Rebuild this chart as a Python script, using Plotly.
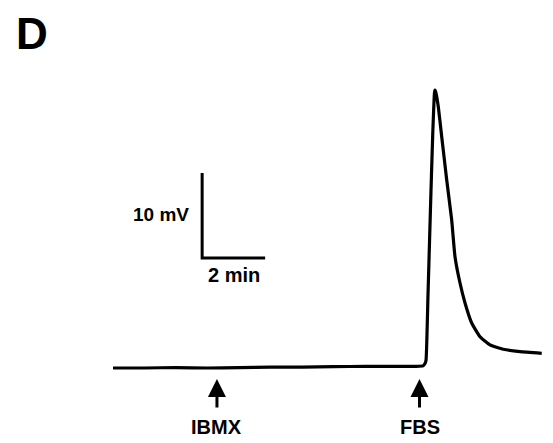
import plotly.graph_objects as go

# Membrane potential trace (relative deflection, mV) vs time (min)
time_min = [0.0, 1.0, 2.0, 3.0, 4.0, 5.0, 6.0, 7.0, 8.0, 9.0, 9.60, 9.84, 9.90, 9.937,
            10.0, 10.095, 10.15, 10.206, 10.222, 10.25, 10.327, 10.435, 10.594, 10.752,
            10.857, 11.016, 11.175, 11.387, 11.651, 11.968, 12.39, 12.92, 13.61]
voltage_mv = [0.0, 0.0, 0.05, 0.0, 0.05, 0.1, 0.1, 0.15, 0.2, 0.2, 0.2, 0.25, 0.5, 0.9,
              8.6, 20.9, 27.5, 32.4, 32.7, 32.4, 30.74, 27.21, 22.12, 17.41,
              13.09, 10.0, 7.65, 5.29, 3.68, 2.71, 2.2, 1.92, 1.73]

# Events
event_labels = ["IBMX", "FBS"]
event_times = [3.3, 9.73]

# Scale bar
bar_t0 = 2.83
bar_v0 = 12.94
bar_time_len = 2.0   # min
bar_volt_len = 10.0  # mV
bar_labels = ["10 mV", "2 min"]
panel_label = "D"

# page body has an 8px margin, so the figure is 545x435 placed at (8, 8)
X_RANGE = [-3.333, 13.968]
Y_RANGE = [-8.824, 42.353]

fig = go.Figure()
fig.add_trace(go.Scatter(x=time_min, y=voltage_mv, mode="lines",
                         line=dict(color="black", width=3.2, shape="spline", smoothing=0.4),
                         hoverinfo="skip"))
fig.add_trace(go.Scatter(x=[bar_t0, bar_t0, bar_t0 + bar_time_len],
                         y=[bar_v0 + bar_volt_len, bar_v0, bar_v0],
                         mode="lines", line=dict(color="black", width=3), hoverinfo="skip"))

font = dict(family="Liberation Sans, Arial", size=20, color="black", weight="bold")
anns = []
for lab, t in zip(event_labels, event_times):
    anns.append(dict(x=t, y=-1.3, xref="x", yref="y", text="", showarrow=True,
                     ax=0, ay=30, arrowhead=2, arrowsize=1.2, arrowwidth=3,
                     arrowcolor="black"))
    anns.append(dict(x=t, y=-6.94, xref="x", yref="y", text=lab, showarrow=False,
                     xanchor="center", yanchor="middle", font=font))
anns.append(dict(x=bar_t0 - 0.35, y=bar_v0 + 5.1, xref="x", yref="y", text=bar_labels[0],
                 showarrow=False, xanchor="right", yanchor="middle",
                 font=dict(font, size=19)))
anns.append(dict(x=bar_t0 + bar_time_len / 2, y=bar_v0 - 2.0, xref="x", yref="y",
                 text=bar_labels[1], showarrow=False, xanchor="center", yanchor="middle",
                 font=font))
anns.append(dict(x=7 / 545, y=1, xref="paper", yref="paper", text=panel_label,
                 showarrow=False, xanchor="left", yanchor="top", borderpad=0,
                 font=dict(font, size=44)))

fig.update_layout(
    width=545, height=435, margin=dict(l=0, r=0, t=0, b=0),
    paper_bgcolor="white", plot_bgcolor="white", showlegend=False,
    xaxis=dict(range=X_RANGE, visible=False, fixedrange=True),
    yaxis=dict(range=Y_RANGE, visible=False, fixedrange=True),
    annotations=anns,
)
fig.write_html("out.html")
